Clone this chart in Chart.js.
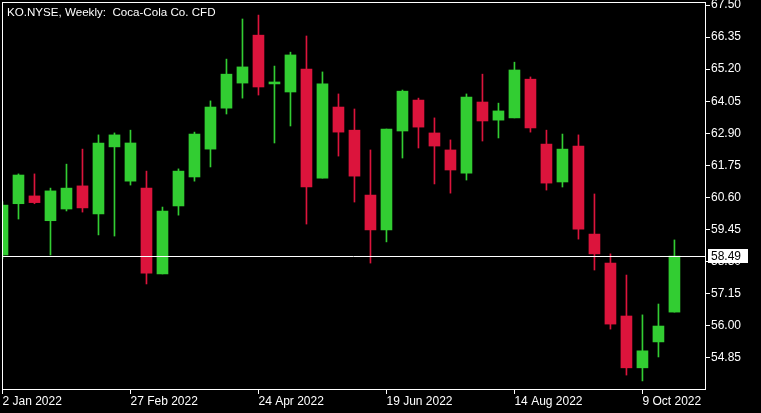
<!DOCTYPE html>
<html>
<head>
<meta charset="utf-8">
<script src="https://cdn.jsdelivr.net/npm/chart.js@4.4.0/dist/chart.umd.min.js"></script>
<style>
  html, body { margin: 0; padding: 0; background: #000; }
  canvas { display: block; }
</style>
</head>
<body>
<canvas id="chart" width="761" height="413"></canvas>
<script>
// weekly candles, 2 Jan 2022 .. 23 Oct 2022 (index = week number)
const opens = [58.53, 60.37, 60.65, 59.76, 60.18, 61.01, 60.00, 62.41, 61.18, 60.93,
  57.85, 60.29, 61.33, 62.33, 63.80, 64.70, 66.42, 64.67, 64.38, 65.20,
  61.29, 63.84, 63.01, 60.68, 59.43, 62.98, 64.09, 62.91, 62.30, 61.47,
  64.02, 63.37, 63.45, 64.84, 62.51, 61.15, 62.44, 59.28, 58.24, 56.34,
  54.48, 55.41, 56.48];
const highs = [60.45, 61.44, 61.44, 60.93, 61.79, 62.33, 62.84, 62.91, 63.01, 61.54,
  60.25, 61.62, 62.94, 64.06, 65.56, 67.00, 67.14, 65.31, 65.81, 66.39,
  65.10, 64.31, 63.77, 62.30, 63.05, 64.45, 64.16, 63.45, 62.66, 64.31,
  65.02, 63.98, 65.45, 64.92, 63.01, 62.87, 62.84, 60.72, 58.57, 57.81,
  56.38, 56.77, 59.07];
const lows = [58.40, 59.82, 60.37, 58.53, 60.11, 60.07, 59.25, 59.21, 61.04, 57.49,
  57.85, 59.96, 61.18, 61.69, 63.59, 64.16, 64.27, 62.55, 63.16, 59.64,
  61.29, 62.08, 60.43, 58.24, 59.00, 62.01, 62.37, 61.08, 60.75, 61.22,
  62.62, 62.73, 63.45, 62.94, 60.86, 60.97, 59.10, 57.99, 55.87, 54.22,
  54.01, 54.87, 56.48];
const closes = [60.32, 61.40, 60.41, 60.83, 60.93, 60.22, 62.55, 62.84, 62.55, 57.88,
  60.11, 61.54, 62.87, 63.84, 65.02, 65.28, 64.56, 64.74, 65.71, 60.97,
  64.67, 62.94, 61.36, 59.43, 63.05, 64.41, 63.12, 62.44, 61.58, 64.20,
  63.34, 63.70, 65.17, 63.09, 61.11, 62.33, 59.46, 58.57, 56.05, 54.48,
  55.09, 55.98, 58.49];

const tickWeeks = [0, 8, 16, 24, 32, 40];
const tickLabels = ['2 Jan 2022', '27 Feb 2022', '24 Apr 2022', '19 Jun 2022', '14 Aug 2022', '9 Oct 2022'];
const priceTicks = [67.50, 66.35, 65.20, 64.05, 62.90, 61.75, 60.60, 59.45, 58.30, 57.15, 56.00, 54.85];
const lastPrice = 58.49;
const title = 'KO.NYSE, Weekly:  Coca-Cola Co. CFD';

const BULL = '#32cd32';
const BEAR = '#dc143c';
const font = { family: 'Liberation Sans, Arial, sans-serif', size: 12 };

const candleColor = (i) => closes[i] >= opens[i] ? BULL : BEAR;

// frame, title, current price line + label
const mtOverlay = {
  id: 'mtOverlay',
  afterDatasetsDraw(chart) {
    const { ctx, chartArea: a, scales: { y } } = chart;
    const py = Math.round(y.getPixelForValue(lastPrice)) + 0.5;
    ctx.save();
    ctx.strokeStyle = '#fff';
    ctx.lineWidth = 1;
    ctx.beginPath();
    ctx.moveTo(a.left, py);
    ctx.lineTo(a.right, py);
    ctx.stroke();
    ctx.strokeRect(Math.round(a.left) + 0.5, Math.round(a.top) + 0.5,
      Math.round(a.right - a.left), Math.round(a.bottom - a.top));
    ctx.restore();
  },
  afterDraw(chart) {
    const { ctx, chartArea: a, scales: { y } } = chart;
    const py = Math.round(y.getPixelForValue(lastPrice));
    ctx.save();
    ctx.font = `11.6px ${font.family}`;
    ctx.fillStyle = '#fff';
    ctx.textBaseline = 'alphabetic';
    ctx.textAlign = 'left';
    ctx.fillText(title, 7, 16);
    // price box on the axis
    ctx.fillRect(a.right + 3, py - 7, 40, 14);
    ctx.fillStyle = '#000';
    ctx.font = `${font.size}px ${font.family}`;
    ctx.textBaseline = 'middle';
    ctx.fillText(lastPrice.toFixed(2), a.right + 6, py + 1);
    ctx.restore();
  }
};

const bodies = opens.map((o, i) => ({ x: i, y: [o, closes[i]] }));
const wicks = highs.map((h, i) => ({ x: i, y: [lows[i], h] }));

new Chart(document.getElementById('chart'), {
  type: 'bar',
  data: {
    datasets: [
      {
        label: 'body',
        data: bodies,
        backgroundColor: (c) => candleColor(c.dataIndex),
        barThickness: 11,
        minBarLength: 1,
        order: 0,
      },
      {
        label: 'wick',
        data: wicks,
        backgroundColor: (c) => candleColor(c.dataIndex),
        barThickness: 1,
        order: 1,
      },
    ],
  },
  options: {
    responsive: false,
    devicePixelRatio: 1,
    animation: false,
    layout: { padding: { left: 2, top: 2, right: 0, bottom: 0 } },
    datasets: { bar: { grouped: false, borderWidth: 0 } },
    plugins: { legend: { display: false }, tooltip: { enabled: false } },
    scales: {
      x: {
        type: 'linear',
        min: -0.03,
        max: 43.91,
        offset: false,
        afterBuildTicks: (s) => { s.ticks = tickWeeks.map((v) => ({ value: v })); },
        afterFit: (s) => {
          s.height = 24;
          s.paddingLeft = 0;
          s.paddingRight = 0;
        },
        grid: { offset: false, drawOnChartArea: false, color: '#fff', tickLength: 5 },
        border: { display: false },
        ticks: {
          color: '#fff',
          font,
          align: 'start',
          maxRotation: 0,
          autoSkip: false,
          padding: 0,
          callback: (v, i) => tickLabels[i],
        },
      },
      y: {
        position: 'right',
        min: 53.72,
        max: 67.61,
        afterBuildTicks: (s) => { s.ticks = priceTicks.map((v) => ({ value: v })); },
        afterFit: (s) => {
          s.width = 56;
          s.paddingTop = 0;
          s.paddingBottom = 0;
        },
        grid: { drawOnChartArea: false, color: '#fff', tickLength: 5 },
        border: { display: false },
        ticks: { color: '#fff', font, padding: 1, callback: (v) => v.toFixed(2) },
      },
    },
  },
  plugins: [mtOverlay],
});
</script>
</body>
</html>
